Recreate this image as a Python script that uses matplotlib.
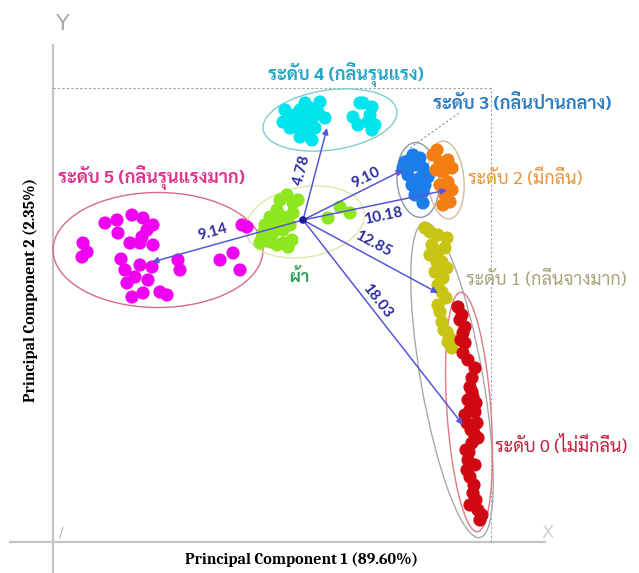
import matplotlib
matplotlib.use("Agg")
import numpy as np
import matplotlib.pyplot as plt
from matplotlib import font_manager
from matplotlib.patches import Ellipse

## PCA scores (PC1, PC2) for each odour level and the fabric blank
level5_x = [2.60, 3.20, 3.25, 3.95, 4.50, 5.00, 4.70, 4.45, 3.85, 4.35, 5.00, 1.50, 1.70, 1.45, 3.60,
            4.35, 4.95, 3.70, 4.10, 3.95, 4.50, 5.35, 5.70, 6.25, 6.35, 8.35, 9.00, 9.35, 9.45, 9.70,
            3.40, 4.75]
level5_y = [15.95, 16.10, 15.45, 16.35, 16.20, 15.85, 15.60, 15.25, 14.95, 14.95, 14.85, 14.95, 14.50,
            14.25, 13.60, 13.85, 13.75, 12.95, 13.25, 12.25, 12.45, 12.50, 12.35, 14.10, 13.60, 14.10,
            14.45, 13.60, 15.85, 15.75, 14.15, 13.10]

level4_x = [11.50, 11.85, 12.35, 12.85, 13.00, 12.20, 12.70, 12.95, 12.35, 13.60, 15.00, 15.50, 15.95,
            15.75, 15.95, 15.35, 11.85, 12.60, 11.60, 12.10, 13.25, 12.45, 13.10, 13.35, 12.60, 15.25,
            15.85, 16.10]
level4_y = [21.00, 21.25, 21.60, 21.70, 21.25, 20.75, 20.60, 20.10, 20.25, 21.20, 21.25, 21.95, 21.75,
            21.00, 20.60, 21.95, 20.70, 21.10, 21.60, 21.35, 21.50, 20.85, 20.70, 22.00, 21.95, 20.85,
            21.35, 20.85]

fabric_x = [11.70, 12.00, 11.20, 10.85, 11.50, 12.00, 10.50, 11.00, 11.50, 10.85, 11.50, 11.75, 13.75,
            14.35, 14.85, 10.45, 11.35, 12.25, 10.60, 11.10, 11.85, 11.20, 11.95, 10.35]
fabric_y = [17.35, 16.95, 16.60, 16.25, 16.25, 16.45, 15.45, 15.45, 15.60, 15.00, 14.95, 14.75, 16.20,
            16.75, 16.45, 15.20, 17.10, 17.10, 15.85, 15.95, 15.85, 14.85, 15.10, 14.95]

level3_x = [18.00, 18.10, 17.50, 18.50, 18.35, 18.75, 18.20, 18.50, 18.50, 17.95, 17.85, 17.60, 18.35,
            18.60, 18.10, 17.75]
level3_y = [19.35, 18.85, 18.70, 18.70, 18.20, 18.25, 17.70, 17.50, 16.95, 17.85, 19.10, 19.00, 19.20,
            17.85, 17.35, 18.35]

level2_x = [19.00, 19.35, 19.50, 19.75, 19.70, 19.85, 19.50, 19.95, 19.35, 19.20, 19.15, 19.60, 19.75,
            19.95]
level2_y = [19.35, 19.00, 18.50, 18.00, 17.50, 17.00, 16.85, 18.70, 17.85, 19.60, 18.60, 17.35, 19.10,
            17.60]

level1_x = [18.60, 19.25, 19.70, 18.85, 19.25, 19.45, 19.10, 19.50, 19.45, 19.25, 19.45, 19.70, 19.75,
            19.95, 18.85, 18.95, 19.60, 19.20, 19.70, 19.25, 19.65, 19.35, 19.55, 19.85]
level1_y = [15.70, 15.35, 15.20, 14.35, 14.50, 14.00, 13.50, 13.20, 12.50, 11.85, 11.00, 10.50, 10.00,
            9.70, 15.50, 14.85, 14.70, 14.00, 13.70, 12.85, 12.20, 11.50, 10.60, 10.20]

level0_x = [20.25, 20.50, 20.50, 21.10, 20.85, 21.00, 20.75, 20.70, 21.20, 20.95, 20.75, 20.85, 21.00,
            21.25, 21.35, 20.35, 20.60, 20.95, 20.85, 21.05, 20.65, 21.05, 20.45, 20.60, 20.40, 20.75,
            20.95, 21.15, 20.60, 21.10, 20.90, 21.25, 20.80, 21.10, 20.70, 21.15, 20.85, 21.45]
level0_y = [11.75, 10.45, 9.45, 8.70, 7.75, 7.25, 7.10, 5.95, 5.95, 4.95, 4.10, 3.25, 2.45, 1.60, 1.10,
            11.10, 9.95, 8.20, 6.60, 5.45, 4.60, 2.85, 11.35, 10.75, 10.10, 9.10, 7.50, 6.95, 6.35, 6.50,
            5.60, 5.20, 4.50, 3.85, 3.60, 2.10, 1.85, 1.35]

## fabric centroid and centroid of each level (arrow ends) with Euclidean distances
fabric_center = (12.50, 16.10)
arrow_end_x = [4.95, 13.70, 17.50, 19.70, 19.25, 20.50]
arrow_end_y = [14.00, 20.70, 18.60, 17.60, 12.45, 5.85]
distances = [9.14, 4.78, 9.10, 10.18, 12.85, 18.03]

## group ellipses: centre x, centre y, width, height, angle
ellipse_cx = [5.25, 13.85, 12.60, 18.25, 19.65, 19.95, 20.80]
ellipse_cy = [14.60, 21.10, 16.00, 18.10, 18.10, 8.10, 6.50]
ellipse_w = [10.5, 6.75, 6.0, 2.1, 1.8, 3.1, 2.2]
ellipse_h = [5.75, 3.0, 3.5, 3.75, 3.9, 16.0, 12.0]
ellipse_ang = [0, 8, 10, 5, 5, 10, 4]
ellipse_col = ["#d86a8a", "#80cccc", "#dce8a8", "#8898a8", "#d8b898", "#a8a8a8", "#e07888"]

level_labels = ["ระดับ 5 (กลิ่นรุนแรงมาก)", "ระดับ 4 (กลิ่นรุนแรง)", "ระดับ 3 (กลิ่นปานกลาง)",
                "ระดับ 2 (มีกลิ่น)", "ระดับ 1 (กลิ่นจางมาก)", "ระดับ 0 (ไม่มีกลิ่น)"]
fabric_label = "ผ้า"

## pick an installed font that has Thai glyphs
installed = {f.name for f in font_manager.fontManager.ttflist}
thai_font = "DejaVu Sans"
for cand in ["Sarabun", "Noto Sans Thai Looped", "Noto Sans Thai", "IBM Plex Sans Thai Looped", "Kanit"]:
    if cand in installed:
        thai_font = cand
        break
thai_family = [thai_font, "DejaVu Sans"]

fig = plt.figure(figsize=(6.39, 5.73), dpi=100)
ax = fig.add_axes([0, 0, 1, 1])
ax.set_xlim(-2.65, 29.3)
ax.set_ylim(-1.55, 27.1)
ax.axis("off")

## axes lines and dashed guides
ax.plot([-2.15, 24.6], [0, 0], color="#c4c4c4", lw=1.6, zorder=1)
ax.plot([0, 0], [-1.55, 24.85], color="#c4c4c4", lw=1.6, zorder=1)
ax.plot([0, 21.9], [22.7, 22.7], color="#9a9a9a", lw=0.8, ls=(0, (2, 2)), zorder=1)
ax.plot([21.9, 21.9], [0, 22.7], color="#9aa4b0", lw=0.8, ls=(0, (2, 2)), zorder=1)
ax.text(0.5, 25.9, "Y", color="#ababab", fontsize=16, ha="center", va="center")
ax.text(24.75, 0.45, "X", color="#d0d0d0", fontsize=13, ha="center", va="center")
ax.text(0.4, 0.45, "/", color="#b8b8b8", fontsize=10, ha="center", va="center")

## ellipses around each group
for cx, cy, w, h, a, c in zip(ellipse_cx, ellipse_cy, ellipse_w, ellipse_h, ellipse_ang, ellipse_col):
    ax.add_patch(Ellipse((cx, cy), w, h, angle=a, fill=False, edgecolor=c, lw=1.0, zorder=2))

## scatter points
groups = [
    (level5_x, level5_y, "#f000f0"),
    (level4_x, level4_y, "#00e4ee"),
    (fabric_x, fabric_y, "#8ee61e"),
    (level3_x, level3_y, "#1c7ce8"),
    (level2_x, level2_y, "#f57e12"),
    (level1_x, level1_y, "#c8c414"),
    (level0_x, level0_y, "#d00814"),
]
for gx, gy, c in groups:
    ax.scatter(gx, gy, s=90, color=c, edgecolors="none", zorder=3)

## arrows from the fabric centroid with distance labels
label_t = [0.58, 0.543, 0.63, 0.556, 0.519, 0.415]
label_off = [(-2, 9), (-10, 0), (0, 8), (0, -9), (0, 10), (6, 3)]
fx, fy = fabric_center
for ex, ey, d, t, off in zip(arrow_end_x, arrow_end_y, distances, label_t, label_off):
    ax.annotate("", xy=(ex, ey), xytext=(fx, fy),
                arrowprops=dict(arrowstyle="-|>", color="#5656d8", lw=1.1,
                                mutation_scale=9, shrinkA=0, shrinkB=0), zorder=4)
    ang = np.degrees(np.arctan2(ey - fy, ex - fx))
    if ang > 90:
        ang -= 180
    elif ang < -90:
        ang += 180
    px = fx + t * (ex - fx)
    py = fy + t * (ey - fy)
    ax.annotate(f"{d:.2f}", xy=(px, py), xytext=off, textcoords="offset points",
                ha="center", va="center", rotation=ang, rotation_mode="anchor",
                color="#2c2ca0", fontsize=11, fontweight="bold",
                family=["Lato", "DejaVu Sans"], zorder=5)
ax.scatter([fx], [fy], s=30, color="#1a1a9a", edgecolors="none", zorder=5)

## leader line to the level 3 label
ax.plot([17.85, 20.3], [19.7, 21.45], color="#8098b0", lw=0.8, ls=(0, (2, 2)), zorder=2)

## level names
label_pos = [(0.25, 18.2), (10.75, 23.35), (19.0, 21.9), (20.75, 18.2), (20.65, 13.1), (22.1, 4.8)]
label_col = ["#e2338c", "#22a6c8", "#2f7ec2", "#e8923a", "#a8a27a", "#c41c3a"]
label_wt = ["bold", "bold", "bold", "normal", "normal", "normal"]
for (lx, ly), txt, c, wt in zip(label_pos, level_labels, label_col, label_wt):
    ax.text(lx, ly, txt, color=c, fontsize=13, fontweight=wt, family=thai_family,
            ha="left", va="center", zorder=5)
ax.text(12.35, 13.25, fabric_label, color="#2fa050", fontsize=12, fontweight="bold",
        family=thai_family, ha="center", va="center", zorder=5)

## axis titles
ax.text(12.45, -0.9, "Principal Component 1 (89.60%)", fontsize=11.5, fontweight="bold",
        family=["Caladea", "Liberation Serif"], ha="center", va="center")
ax.text(-1.1, 12.6, "Principal Component 2 (2.35%)", fontsize=11.5, fontweight="bold",
        family=["Caladea", "Liberation Serif"], ha="center", va="center", rotation=90)

fig.savefig("out.png", dpi=100)
